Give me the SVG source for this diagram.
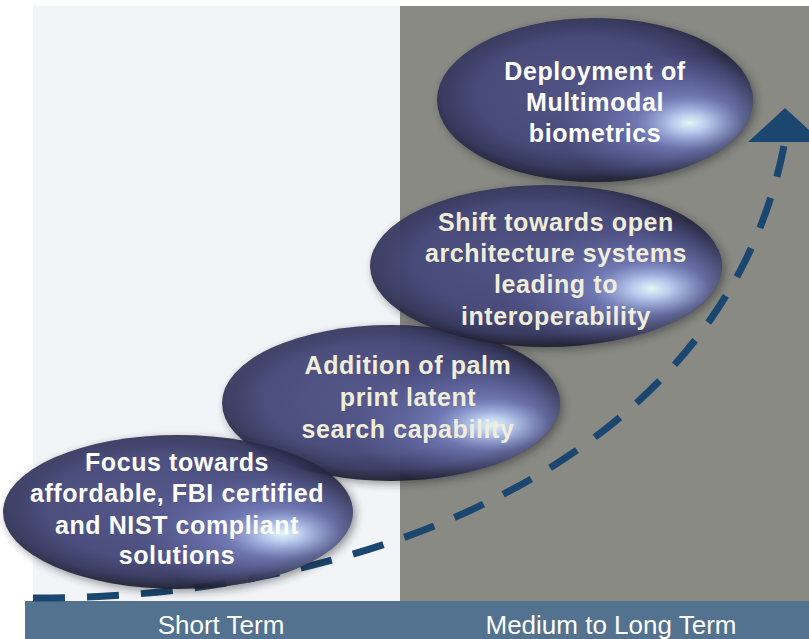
<svg xmlns="http://www.w3.org/2000/svg" width="809" height="639" viewBox="0 0 809 639">
<defs>
<radialGradient id="body" cx="0.47" cy="0.47" r="0.53">
<stop offset="0" stop-color="#505489"/>
<stop offset="0.65" stop-color="#474a7c"/>
<stop offset="0.86" stop-color="#35375e"/>
<stop offset="1" stop-color="#1e1e30"/>
</radialGradient>
<radialGradient id="hl" cx="0.8" cy="0.64" r="0.42">
<stop offset="0" stop-color="#e0f8f4" stop-opacity="1"/>
<stop offset="0.13" stop-color="#c0d2f4" stop-opacity="0.95"/>
<stop offset="0.4" stop-color="#8c98dc" stop-opacity="0.55"/>
<stop offset="1" stop-color="#6a70b8" stop-opacity="0"/>
</radialGradient>
<filter id="sh" x="-10%" y="-15%" width="120%" height="130%">
<feGaussianBlur stdDeviation="4"/>
</filter>
<style>
.shadow{fill:#1a1a22;opacity:0.45;filter:url(#sh)}
.bodyE{fill:url(#body);fill-opacity:0.93}
.hlE{fill:url(#hl)}
.t{font-family:"Liberation Sans",Arial,sans-serif;font-weight:bold;font-size:25px;letter-spacing:0.6px;text-anchor:middle}
.w{fill:#ffffff}
.c{fill:#f0eedb}
.lbl{font-family:"Liberation Sans",Arial,sans-serif;font-size:26px;fill:#ffffff;text-anchor:middle}
.dash{fill:none;stroke:#1a4670;stroke-width:7;stroke-dasharray:32 22}
</style>
</defs>
<rect x="0" y="0" width="809" height="639" fill="#ffffff"/>
<rect x="33" y="6" width="367" height="596" fill="#f3f4f7"/>
<rect x="400" y="6" width="409" height="596" fill="#8a8a84"/>
<rect x="25" y="601" width="784" height="38" fill="#52728f"/>
<text class="lbl" x="221" y="634">Short Term</text>
<text class="lbl" x="611" y="634">Medium to Long Term</text>
<g id="connectors">
<path class="dash" d="M33,598 C350,600 720,470 784,146"/>
<polygon points="748,142 785,108 822,142" fill="#1a4670"/>
</g>
<g id="node4">
<ellipse class="shadow" cx="598" cy="103" rx="158" ry="82"/>
<ellipse class="bodyE" cx="595" cy="100" rx="158" ry="82"/>
<ellipse class="hlE" cx="595" cy="100" rx="158" ry="82"/>
<text class="t w" x="595" y="80">Deployment of</text>
<text class="t w" x="595" y="111">Multimodal</text>
<text class="t w" x="595" y="142">biometrics</text>
</g>
<g id="node2">
<ellipse class="shadow" cx="394" cy="406" rx="169" ry="78"/>
<ellipse class="bodyE" cx="391" cy="403" rx="169" ry="78"/>
<ellipse class="hlE" cx="391" cy="403" rx="169" ry="78"/>
<text class="t c" x="408" y="374">Addition of palm</text>
<text class="t c" x="408" y="406">print latent</text>
<text class="t c" x="408" y="438">search capability</text>
</g>
<g id="node3">
<ellipse class="shadow" cx="549" cy="269" rx="176" ry="81"/>
<ellipse class="bodyE" cx="546" cy="266" rx="176" ry="81"/>
<ellipse class="hlE" cx="546" cy="266" rx="176" ry="81"/>
<text class="t c" x="556" y="231">Shift towards open</text>
<text class="t c" x="556" y="262">architecture systems</text>
<text class="t c" x="556" y="293">leading to</text>
<text class="t c" x="556" y="325">interoperability</text>
</g>
<g id="node1">
<ellipse class="shadow" cx="181" cy="515" rx="175" ry="77"/>
<ellipse class="bodyE" cx="178" cy="512" rx="175" ry="77"/>
<ellipse class="hlE" cx="178" cy="512" rx="175" ry="77"/>
<text class="t w" x="177" y="471">Focus towards</text>
<text class="t w" x="177" y="502">affordable, FBI certified</text>
<text class="t w" x="177" y="534">and NIST compliant</text>
<text class="t w" x="177" y="564">solutions</text>
</g>
</svg>
